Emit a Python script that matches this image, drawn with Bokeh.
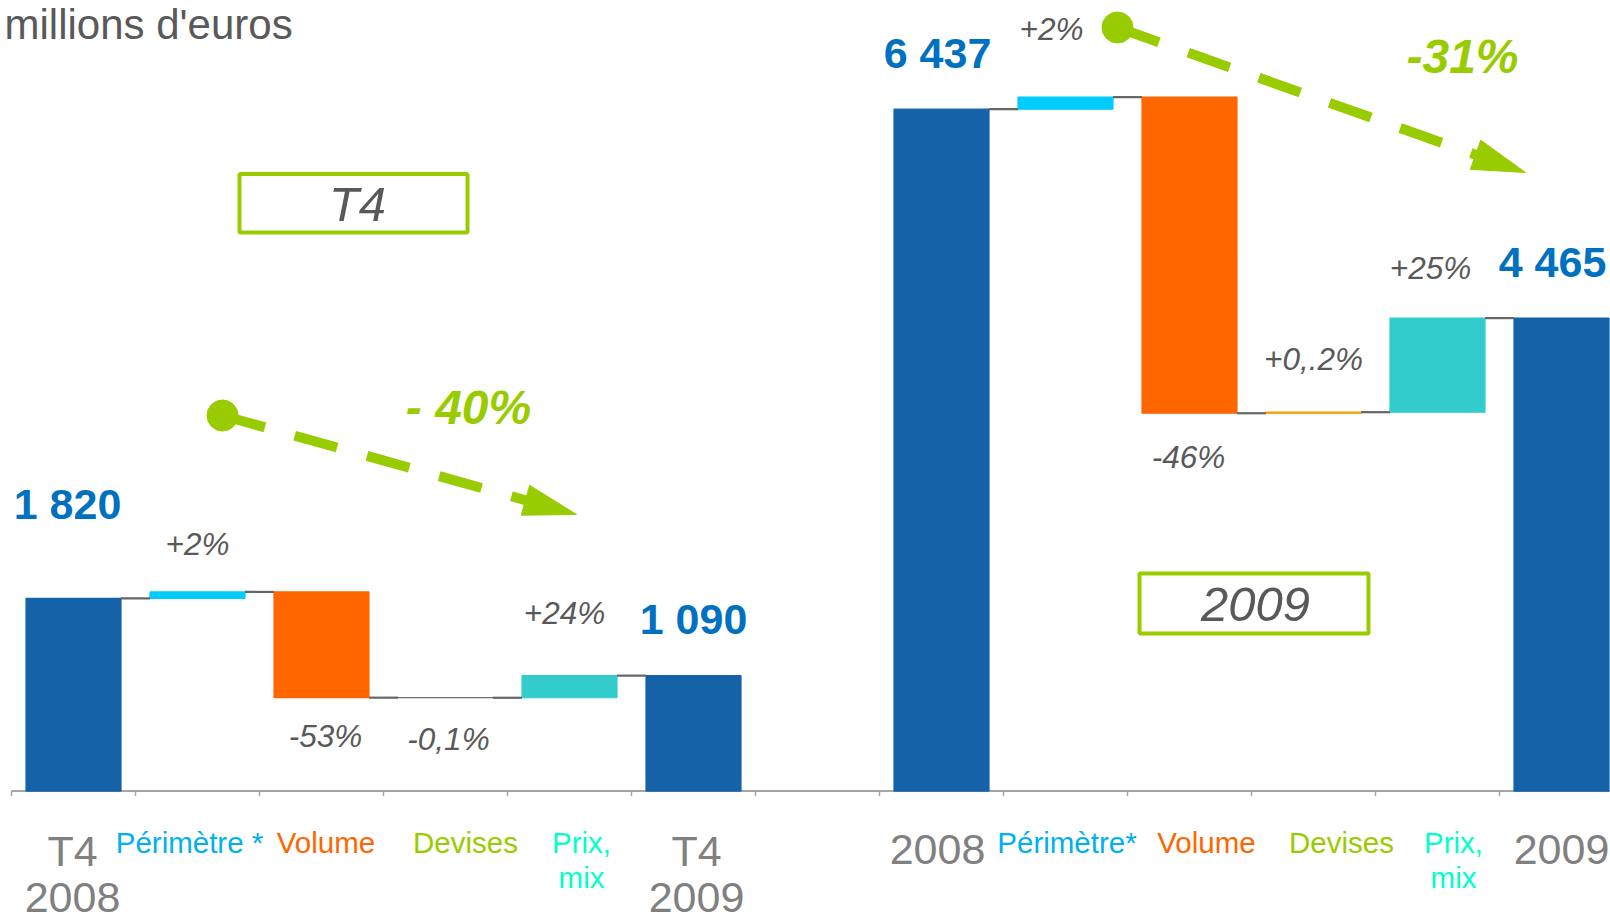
from bokeh.plotting import figure
from bokeh.models import Range1d, ColumnDataSource
from bokeh.core.properties import value
from bokeh.embed import file_html
from bokeh.resources import INLINE

# ---------------- data (millions d'euros) ----------------
q4_categories = ["T4\n2008", "Périmètre *", "Volume", "Devises", "Prix,\nmix", "T4\n2009"]
q4_start = 1820
q4_changes = [60, -998, -1, 209]
q4_end = 1090
q4_change_labels = ["+2%", "-53%", "-0,1%", "+24%"]
q4_trend = "- 40%"
q4_box = "T4"

fy_categories = ["2008", "Périmètre*", "Volume", "Devises", "Prix,\nmix", "2009"]
fy_start = 6437
fy_changes = [115, -2985, 10, 888]
fy_end = 4465
fy_change_labels = ["+2%", "-46%", "+0,.2%", "+25%"]
fy_trend = "-31%"
fy_box = "2009"

unit_title = "millions d'euros"

# ---------------- styling / layout ----------------
FONT = value("Liberation Sans")
W, H = 1610, 922
X0, SLOT = 11.0, 124.0          # left end of the category axis, px per category
BASE, U = 790.6, 9.44           # baseline (px) and value units per px
BAR_W = 0.766
K = 0.37                        # baseline correction (fraction of font size)

BLUE = "#1562A8"
GREEN = "#99CC00"
GREY_TXT = "#595959"
CONNECT = "#666666"
AXIS = "#A6A6A6"


def xd(px):
    return (px - X0) / SLOT


def yd(px):
    return (BASE - px) * U


def lift(size):
    return -K * size


p = figure(width=W, height=H, output_backend="svg", toolbar_location=None,
           x_range=Range1d(xd(0), xd(W)),
           y_range=Range1d(yd(H), yd(0)),
           x_axis_location=None, y_axis_location=None, min_border=0)
p.grid.visible = False
p.outline_line_color = None
p.background_fill_color = "white"
p.border_fill_color = "white"

VAL_SIZE, PCT_SIZE, CAT_BIG, CAT_SMALL = 43, 31.5, 43, 29.5

groups = [
    dict(cats=q4_categories, start=q4_start, changes=q4_changes, end=q4_end,
         pct=q4_change_labels, slot0=0, devises_color="#6E6E6E",
         total_dx=[-6, 0], total_dy=[-78, -41],
         pct_dx=[0, 4, 3, -5], pct_dy=[-36, 50, 53, -51],
         cat_dx=[-1, -8, 4.5, 20, 12, 3],
         cat_size=[CAT_BIG, CAT_SMALL, CAT_SMALL, CAT_SMALL, CAT_SMALL, CAT_BIG],
         first_base=[866, 853, 853, 853, 853, 866],
         line_gap=[47, 35, 35, 35, 35, 47]),
    dict(cats=fy_categories, start=fy_start, changes=fy_changes, end=fy_end,
         pct=fy_change_labels, slot0=7, devises_color="#FF9900",
         total_dx=[-4, -9], total_dy=[-40, -40],
         pct_dx=[-14, -1, 0, -7], pct_dy=[-56, 55, -42, -38],
         cat_dx=[-4, 1.5, 17, 28, 16, 0],
         cat_size=[CAT_BIG, CAT_SMALL, CAT_SMALL, CAT_SMALL, CAT_SMALL, CAT_BIG],
         first_base=[865, 853, 853, 853, 853, 865],
         line_gap=[47, 35, 35, 35, 35, 47]),
]
cat_colors = ["#808080", "#00B0F0", "#FF6600", "#99CC00", "#00FFCC", "#808080"]

bars = dict(x=[], bottom=[], top=[], color=[])
conn = dict(x0=[], x1=[], y=[])
vals = dict(x=[], y=[], text=[], dx=[], dy=[])
pcts = dict(x=[], y=[], text=[], dx=[], dy=[])
cats = dict(x=[], y=[], text=[], dx=[], dy=[], color=[], size=[])

for g in groups:
    s0 = g["slot0"]
    centers = [s0 + i + 0.5 for i in range(6)]
    change_colors = ["#00CCFF", "#FF6600", g["devises_color"], "#33CCCC"]
    bars["x"].append(centers[0]); bars["bottom"].append(0); bars["top"].append(g["start"]); bars["color"].append(BLUE)
    level = g["start"]
    levels = [level]
    for j, c in enumerate(g["changes"]):
        new = level + c
        bars["x"].append(centers[j + 1])
        bars["bottom"].append(min(level, new))
        bars["top"].append(max(level, new))
        bars["color"].append(change_colors[j])
        pcts["x"].append(centers[j + 1]); pcts["y"].append(new)
        pcts["text"].append(g["pct"][j]); pcts["dx"].append(g["pct_dx"][j])
        pcts["dy"].append(g["pct_dy"][j] + lift(PCT_SIZE))
        level = new
        levels.append(level)
    bars["x"].append(centers[5]); bars["bottom"].append(0); bars["top"].append(g["end"]); bars["color"].append(BLUE)
    levels[-1] = g["end"]
    for i in range(5):
        conn["x0"].append(centers[i] + BAR_W / 2)
        conn["x1"].append(centers[i + 1] - BAR_W / 2)
        conn["y"].append(levels[i])
    for k, v in enumerate([g["start"], g["end"]]):
        vals["x"].append(centers[0 if k == 0 else 5]); vals["y"].append(v)
        vals["text"].append(f"{v:,}".replace(",", " "))
        vals["dx"].append(g["total_dx"][k]); vals["dy"].append(g["total_dy"][k] + lift(VAL_SIZE))
    for i, label in enumerate(g["cats"]):
        for li, line in enumerate(label.split("\n")):
            base_px = g["first_base"][i] + li * g["line_gap"][i]
            size = g["cat_size"][i]
            cats["x"].append(centers[i]); cats["y"].append(yd(base_px))
            cats["text"].append(line); cats["dx"].append(g["cat_dx"][i]); cats["dy"].append(lift(size))
            cats["color"].append(cat_colors[i]); cats["size"].append(f"{size}px")

# category axis (baseline + tick marks at category boundaries)
n_slots = 13
p.segment(x0=[0], y0=[0], x1=[n_slots], y1=[0], line_color=AXIS, line_width=2)
p.segment(x0=list(range(n_slots + 1)), y0=[0] * (n_slots + 1),
          x1=list(range(n_slots + 1)), y1=[-5 * U] * (n_slots + 1),
          line_color=AXIS, line_width=1.5)

p.vbar(x="x", bottom="bottom", top="top", width=BAR_W, fill_color="color",
       line_color="color", line_width=1.2, source=ColumnDataSource(bars))
p.segment(x0="x0", y0="y", x1="x1", y1="y", line_color=CONNECT, line_width=2.2,
          source=ColumnDataSource(conn))

p.text(x="x", y="y", text="text", x_offset="dx", y_offset="dy", source=ColumnDataSource(vals),
       text_font=FONT, text_font_size=f"{VAL_SIZE}px", text_font_style="bold", text_color="#0070C0",
       text_align="center", text_baseline="alphabetic")
p.text(x="x", y="y", text="text", x_offset="dx", y_offset="dy", source=ColumnDataSource(pcts),
       text_font=FONT, text_font_size=f"{PCT_SIZE}px", text_font_style="italic", text_color=GREY_TXT,
       text_align="center", text_baseline="alphabetic")
p.text(x="x", y="y", text="text", x_offset="dx", y_offset="dy", source=ColumnDataSource(cats),
       text_font=FONT, text_font_size="size", text_color="color",
       text_align="center", text_baseline="alphabetic")

# trend arrows (annotation positions in reference pixels)
arrows = [((222, 415), (576, 514)), ((1117, 27), (1525, 172))]
for (sx, sy), (tx, ty) in arrows:
    dxp, dyp = tx - sx, ty - sy
    ln = (dxp ** 2 + dyp ** 2) ** 0.5
    ux, uy = dxp / ln, dyp / ln
    bx, by = tx - ux * 53, ty - uy * 53
    hw = 15.5
    p.line([xd(sx), xd(bx)], [yd(sy), yd(by)], line_color=GREEN, line_width=10, line_dash="44 31")
    p.patch([xd(tx), xd(bx - uy * hw), xd(bx + uy * hw)],
            [yd(ty), yd(by + ux * hw), yd(by - ux * hw)], fill_color=GREEN, line_color=GREEN)
    p.scatter([xd(sx)], [yd(sy)], size=31, fill_color=GREEN, line_color=GREEN)

TREND_SIZE = 48
p.text(x=[xd(468), xd(1462)], y=[yd(425), yd(74)], text=[q4_trend, fy_trend],
       y_offset=lift(TREND_SIZE),
       text_font=FONT, text_font_size=f"{TREND_SIZE}px", text_font_style="bold italic", text_color=GREEN,
       text_align="center", text_baseline="alphabetic")

# period boxes
BOX_SIZE = 49
p.quad(left=[xd(239), xd(1139)], right=[xd(467), xd(1368)],
       top=[yd(173.5), yd(573)], bottom=[yd(232), yd(633)],
       fill_color=None, line_color=GREEN, line_width=4)
p.text(x=[xd(357), xd(1255)], y=[yd(222), yd(622)], text=[q4_box, fy_box],
       y_offset=lift(BOX_SIZE),
       text_font=FONT, text_font_size=f"{BOX_SIZE}px", text_font_style="italic", text_color=GREY_TXT,
       text_align="center", text_baseline="alphabetic")

# unit title (top-left, kept fully inside the picture)
TITLE_SIZE = 42
p.text(x=[xd(4)], y=[yd(40)], text=[unit_title], y_offset=lift(TITLE_SIZE),
       text_font=FONT, text_font_size=f"{TITLE_SIZE}px",
       text_color=GREY_TXT, text_align="left", text_baseline="alphabetic")

open("out.html", "w").write(file_html(p, INLINE))
